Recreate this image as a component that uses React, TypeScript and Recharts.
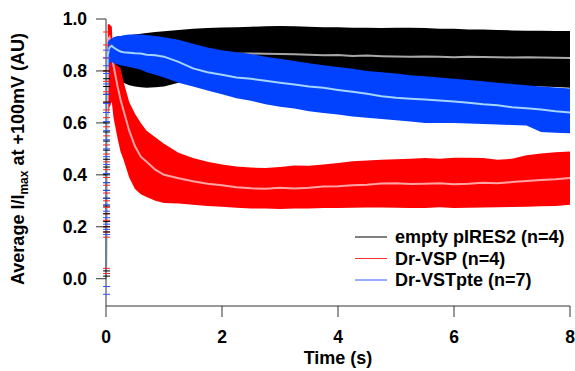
import React from "react";
import { ComposedChart, Area, Scatter, XAxis, YAxis, Label } from "recharts";

// time points (s)
const times = [0, 0.03, 0.06, 0.1, 0.13, 0.2, 0.25, 0.3, 0.4, 0.5, 0.6, 0.7, 0.85,
  1.0, 1.25, 1.5, 1.75, 2.0, 2.25, 2.5, 2.75, 3.0, 3.25, 3.5, 3.75, 4.0, 4.25, 4.5, 4.75,
  5.0, 5.25, 5.5, 5.75, 6.0, 6.25, 6.5, 6.75, 7.0, 7.25, 7.5, 7.75, 8.0];

// empty pIRES2 (n=4)
const blackMean = [0.0, 0.82, 0.84, 0.85, 0.85, 0.845, 0.845, 0.845, 0.843, 0.843, 0.843, 0.845, 0.846,
  0.848, 0.852, 0.856, 0.86, 0.862, 0.866, 0.867, 0.866, 0.865, 0.864, 0.862, 0.86, 0.861, 0.858, 0.859, 0.857,
  0.856, 0.855, 0.856, 0.855, 0.853, 0.855, 0.854, 0.853, 0.852, 0.853, 0.852, 0.851, 0.85];
const blackLow = [null, 0.78, 0.8, 0.81, 0.8, 0.77, 0.762, 0.755, 0.745, 0.74, 0.737, 0.735, 0.737,
  0.74, 0.755, 0.76, 0.765, 0.77, 0.772, 0.775, 0.777, 0.778, 0.78, 0.78, 0.782, 0.784, 0.785, 0.787, 0.785,
  0.78, 0.775, 0.77, 0.765, 0.76, 0.755, 0.75, 0.747, 0.744, 0.742, 0.74, 0.738, 0.735];
const blackHigh = [null, 0.86, 0.88, 0.9, 0.91, 0.925, 0.93, 0.932, 0.937, 0.94, 0.943, 0.946, 0.95,
  0.953, 0.958, 0.962, 0.965, 0.967, 0.968, 0.97, 0.972, 0.973, 0.972, 0.97, 0.968, 0.968, 0.966, 0.966, 0.965,
  0.966, 0.966, 0.965, 0.962, 0.962, 0.96, 0.96, 0.958, 0.956, 0.955, 0.955, 0.954, 0.954];

// Dr-VSP (n=4)
const redMean = [0.02, 0.92, 0.93, 0.88, 0.82, 0.74, 0.69, 0.65, 0.57, 0.51, 0.47, 0.45, 0.42,
  0.4, 0.387, 0.375, 0.366, 0.36, 0.352, 0.348, 0.346, 0.35, 0.347, 0.35, 0.355, 0.356, 0.36, 0.362, 0.367,
  0.368, 0.365, 0.366, 0.368, 0.364, 0.366, 0.37, 0.368, 0.372, 0.376, 0.38, 0.383, 0.388];
const redLow = [null, 0.62, 0.66, 0.68, 0.62, 0.54, 0.49, 0.46, 0.39, 0.345, 0.325, 0.315, 0.3,
  0.292, 0.29, 0.285, 0.28, 0.277, 0.273, 0.27, 0.27, 0.268, 0.27, 0.27, 0.272, 0.272, 0.273, 0.274, 0.274,
  0.273, 0.272, 0.272, 0.275, 0.272, 0.273, 0.274, 0.275, 0.276, 0.277, 0.279, 0.28, 0.285];
const redHigh = [null, 0.98, 0.98, 0.97, 0.83, 0.82, 0.81, 0.76, 0.68, 0.635, 0.6, 0.57, 0.545,
  0.52, 0.485, 0.465, 0.45, 0.44, 0.432, 0.428, 0.426, 0.43, 0.436, 0.435, 0.44, 0.446, 0.452, 0.455, 0.458,
  0.46, 0.462, 0.465, 0.462, 0.466, 0.466, 0.465, 0.458, 0.462, 0.475, 0.482, 0.487, 0.49];

// Dr-VSTpte (n=7)
const blueMean = [0.0, 0.86, 0.89, 0.897, 0.89, 0.88, 0.875, 0.872, 0.87, 0.868, 0.867, 0.862, 0.86,
  0.855, 0.835, 0.81, 0.795, 0.785, 0.775, 0.77, 0.762, 0.755, 0.748, 0.74, 0.735, 0.727, 0.72, 0.712, 0.703,
  0.697, 0.693, 0.69, 0.686, 0.682, 0.678, 0.672, 0.668, 0.66, 0.656, 0.652, 0.645, 0.64];
const blueLow = [null, 0.8, 0.83, 0.835, 0.83, 0.825, 0.822, 0.82, 0.815, 0.81, 0.805, 0.795, 0.785,
  0.775, 0.755, 0.74, 0.725, 0.71, 0.695, 0.685, 0.672, 0.662, 0.655, 0.645, 0.638, 0.632, 0.625, 0.62, 0.615,
  0.61, 0.605, 0.6, 0.6, 0.6, 0.598, 0.596, 0.594, 0.592, 0.59, 0.565, 0.562, 0.56];
const blueHigh = [null, 0.91, 0.92, 0.925, 0.93, 0.935, 0.935, 0.937, 0.94, 0.94, 0.94, 0.938, 0.935,
  0.93, 0.92, 0.905, 0.89, 0.88, 0.872, 0.865, 0.855, 0.847, 0.838, 0.83, 0.822, 0.815, 0.808, 0.8, 0.795,
  0.79, 0.783, 0.78, 0.775, 0.77, 0.765, 0.76, 0.755, 0.75, 0.745, 0.74, 0.736, 0.732];

// error-bar caps during the rising phase (t ~ 0)
const capTime = 0.01;
const blackCaps = [0.8, 0.77, 0.74, 0.71, 0.68, 0.64, 0.6, 0.565, 0.53, 0.495, 0.46, 0.43, 0.4, 0.37,
  0.34, 0.31, 0.28, 0.25, 0.22, 0.2, 0.18, 0.03, 0.01];
const redCaps = [0.95, 0.9, 0.85, 0.8, 0.76, 0.72, 0.68, 0.65, 0.62, 0.585, 0.55, 0.515, 0.48, 0.45,
  0.42, 0.39, 0.36, 0.33, 0.3, 0.275, 0.25, 0.225, 0.2, 0.18, 0.16, 0.04, 0.02];
const blueCaps = [0.88, 0.85, 0.82, 0.79, 0.75, 0.71, 0.675, 0.64, 0.605, 0.57, 0.535, 0.5, 0.47, 0.44,
  0.405, 0.37, 0.34, 0.31, 0.285, 0.26, 0.235, 0.21, 0.19, 0.17, -0.03, -0.06];

const xTicks = [0, 2, 4, 6, 8];
const yTicks = [0, 0.2, 0.4, 0.6, 0.8, 1.0];

const legendItems = [
  { name: "empty pIRES2 (n=4)", color: "#000000" },
  { name: "Dr-VSP (n=4)", color: "#ff3030" },
  { name: "Dr-VSTpte (n=7)", color: "#3060ff" },
];

const band = (lo: (number | null)[], hi: (number | null)[], i: number) =>
  lo[i] == null || hi[i] == null ? null : [lo[i], hi[i]];

const table = times.map((t, i) => ({
  t,
  blackMean: blackMean[i],
  blackBand: band(blackLow, blackHigh, i),
  redMean: redMean[i],
  redBand: band(redLow, redHigh, i),
  blueMean: blueMean[i],
  blueBand: band(blueLow, blueHigh, i),
}));

const caps = (vals: number[]) => vals.map((v) => ({ t: capTime, v }));

const FONT = "'Liberation Sans', Arial, Helvetica, sans-serif";

const capShape = (color: string) => (props: any) => {
  const { cx, cy } = props;
  if (cx == null || cy == null) return <g />;
  return <line x1={cx - 3.5} x2={cx + 3.5} y1={cy} y2={cy} stroke={color} strokeWidth={1} />;
};

const YLabel = () => (
  <text
    x={24}
    y={159}
    transform="rotate(-90, 24, 159)"
    textAnchor="middle"
    fontFamily={FONT}
    fontWeight="bold"
    fontSize={18}
    fill="#000"
  >
    Average I/I
    <tspan fontSize={12} dy={4}>max</tspan>
    <tspan dy={-4}> at +100mV (AU)</tspan>
  </text>
);

const XLabel = () => (
  <text x={338} y={364} textAnchor="middle" fontFamily={FONT} fontWeight="bold" fontSize={18} fill="#000">
    Time (s)
  </text>
);

export default function App() {
  const tickStyle = { fontFamily: FONT, fontWeight: "bold", fontSize: 17.5, fill: "#000" } as any;
  return (
    <div style={{ position: "fixed", left: 0, top: 0, width: 575, height: 371, background: "#fff" }}>
      <ComposedChart
        width={575}
        height={371}
        data={table}
        margin={{ top: 19, right: 5, left: 0, bottom: 0 }}
      >
        <XAxis
          dataKey="t"
          type="number"
          domain={[0, 8]}
          ticks={xTicks}
          tickSize={11}
          tickMargin={14}
          height={65}
          stroke="#333"
          tick={tickStyle}
          tickFormatter={(v: number) => String(v)}
        >
          <Label content={<XLabel />} />
        </XAxis>
        <YAxis
          type="number"
          domain={[-0.105, 1.0]}
          ticks={yTicks}
          width={106}
          tickSize={10}
          tickMargin={9}
          stroke="#333"
          tick={tickStyle}
          tickFormatter={(v: number) => v.toFixed(1)}
          allowDataOverflow
        >
          <Label content={<YLabel />} />
        </YAxis>

        <Area dataKey="blackBand" type="linear" stroke="none" fill="#000000" fillOpacity={1} isAnimationActive={false} />
        <Area dataKey="blackMean" type="linear" stroke="#a8a8a8" strokeWidth={2} fill="none" dot={false} activeDot={false} isAnimationActive={false} />
        <Area dataKey="redBand" type="linear" stroke="none" fill="#ff0000" fillOpacity={1} isAnimationActive={false} />
        <Area dataKey="redMean" type="linear" stroke="#ffa4a4" strokeWidth={2} fill="none" dot={false} activeDot={false} isAnimationActive={false} />
        <Area dataKey="blueBand" type="linear" stroke="none" fill="#0042ff" fillOpacity={1} isAnimationActive={false} />
        <Area dataKey="blueMean" type="linear" stroke="#a4d4ff" strokeWidth={2} fill="none" dot={false} activeDot={false} isAnimationActive={false} />

        <Scatter data={caps(redCaps)} dataKey="v" shape={capShape("#ff2020")} isAnimationActive={false} />
        <Scatter data={caps(blackCaps)} dataKey="v" shape={capShape("#000000")} isAnimationActive={false} />
        <Scatter data={caps(blueCaps)} dataKey="v" shape={capShape("#3050ff")} isAnimationActive={false} />
      </ComposedChart>
      <svg
        width={575}
        height={371}
        style={{ position: "absolute", left: 0, top: 0, pointerEvents: "none" }}
      >
        {legendItems.map((it, i) => (
          <g key={it.name}>
            <line x1={355} x2={387} y1={237 + i * 21.5} y2={237 + i * 21.5} stroke={it.color} strokeWidth={1} />
            <text
              x={395}
              y={237 + i * 21.5 + 6}
              fontFamily={FONT}
              fontWeight="bold"
              fontSize={18}
              fill="#000"
            >
              {it.name}
            </text>
          </g>
        ))}
      </svg>
    </div>
  );
}
